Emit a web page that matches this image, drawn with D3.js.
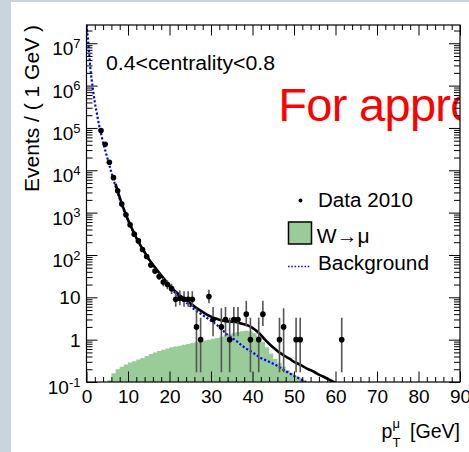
<!DOCTYPE html>
<html>
<head>
<meta charset="utf-8">
<script src="https://cdn.jsdelivr.net/npm/d3@7"></script>
<style>
  html, body { margin: 0; padding: 0; background: #c9d4db; }
  svg { display: block; }
</style>
</head>
<body>
<svg id="chart" width="469" height="452"></svg>
<script>
// ---- data -------------------------------------------------------------
// Data 2010: bin centres (GeV), counts and asymmetric error bars
const dataPt  = [3.5, 4.5, 5.5, 6.5, 7.5, 8.5, 9.5, 10.5, 11.5, 12.5, 13.5, 14.5, 15.5, 16.5, 17.5, 18.5, 19.5, 20.5,
                 21.5, 22.5, 23.5, 24.5, 25.5, 26.5, 27.5, 29.5, 30.5, 32.5, 33.5, 34.5, 35.5, 36.5, 38.5, 39.5,
                 41.5, 42.5, 46.5, 47.5, 50.5, 51.5, 61.5];
const dataVal = [87000, 41000, 15500, 6700, 3300, 1600, 890, 515, 310, 215, 135, 92, 58, 42, 31, 23, 20, 16,
                 9, 9.5, 9, 9, 9, 2, 1, 10.4, 3, 2, 3, 1, 3, 3, 4, 1,
                 1, 4, 1, 2, 1, 1, 1];
const dataErrLo = [295, 200, 125, 82, 57, 40, 30, 23, 18, 15, 12, 10, 8, 6.5, 5.5, 4.8, 4.5, 4,
                   3, 3, 3, 3, 3, 1.83, 0.83, 3.2, 1.8, 1.83, 1.8, 0.83, 1.8, 1.8, 1.9, 0.83,
                   0.83, 1.9, 0.83, 1.83, 0.83, 0.83, 0.83];
const dataErrHi = [295, 200, 125, 82, 57, 40, 30, 23, 18, 15, 12, 10, 8, 7, 6, 5.5, 5.2, 4.8,
                   5, 5, 5, 5, 5, 3.5, 2.3, 4.7, 2.9, 3.5, 2.9, 2.3, 2.9, 2.9, 4.3, 2.3,
                   2.3, 4.3, 2.3, 3.5, 2.3, 2.3, 2.3];

// Background model
const bgPt  = [0, 0.5, 1, 1.5, 2, 2.5, 3, 3.5, 4, 4.5, 5, 6, 7, 8, 9, 10, 11, 12, 13, 14, 15, 16, 17, 18, 19, 20,
               21, 22, 24, 26, 28, 30, 32, 34, 36, 38, 40, 42, 44, 46, 48, 50, 52, 53];
const bgVal = [2.7e7, 8.5e6, 2.2e6, 8.9e5, 4.0e5, 2.2e5, 1.2e5, 7.4e4, 4.5e4, 3.0e4, 2.0e4, 8.9e3, 4.2e3, 2.1e3,
               1150, 660, 400, 250, 166, 115, 79, 58, 43, 32, 24, 18,
               14, 11, 7.6, 5.2, 3.8, 2.8, 2.0, 1.3, 0.95, 0.66, 0.5, 0.37, 0.3, 0.24, 0.18, 0.14, 0.11, 0.095];

// W -> mu template (1 GeV bins, left edges)
const wPt  = [5, 6, 7, 8, 9, 10, 11, 12, 13, 14, 15, 16, 17, 18, 19, 20, 21, 22, 23, 24, 25, 26, 27, 28, 29,
              30, 31, 32, 33, 34, 35, 36, 37, 38, 39, 40, 41, 42, 43, 44, 45, 46, 47, 48, 49, 50, 51, 52, 53];
const wVal = [0.11, 0.16, 0.2, 0.23, 0.26, 0.29, 0.31, 0.34, 0.37, 0.41, 0.46, 0.5, 0.54, 0.58, 0.62, 0.66,
              0.69, 0.72, 0.76, 0.79, 0.83, 0.87, 0.91, 0.95, 1.0, 1.05, 1.1, 1.17, 1.26, 1.35, 1.45, 1.51,
              1.58, 1.62, 1.58, 1.41, 1.2, 0.89, 0.66, 0.47, 0.35, 0.28, 0.23, 0.19, 0.166, 0.141, 0.126, 0.112, 0.1];

// Total fit (background + W)
const totPt  = [7, 8, 9, 10, 11, 12, 13, 14, 15, 16, 17, 18, 19, 20, 21, 22, 23, 24, 25, 26, 27, 28, 29, 30,
                31, 32, 33, 34, 35, 36, 37, 38, 39, 40, 41, 42, 43, 44, 45, 46, 47, 48, 49, 50, 51, 52, 53,
                54, 55, 56, 57, 58, 59, 60];
const totVal = [4800, 2300, 1200, 680, 410, 255, 168, 117, 81, 59, 44, 33, 25, 19, 15, 12.3, 10.2, 8.6, 7.2,
                6.1, 5.2, 4.5, 3.9, 3.5, 3.2, 2.95, 2.8, 2.7, 2.65, 2.6, 2.45, 2.3, 2.15, 1.9, 1.6, 1.3, 1.0,
                0.8, 0.65, 0.54, 0.46, 0.4, 0.35, 0.3, 0.27, 0.24, 0.21, 0.19, 0.17, 0.15, 0.135, 0.12, 0.107, 0.095];

// Axis ticks
const xMajor = [0, 10, 20, 30, 40, 50, 60, 70, 80, 90];
const xMinor = [2, 4, 6, 8, 12, 14, 16, 18, 22, 24, 26, 28, 32, 34, 36, 38, 42, 44, 46, 48,
                52, 54, 56, 58, 62, 64, 66, 68, 72, 74, 76, 78, 82, 84, 86, 88];
const yMajor = [0.1, 1, 10, 1e2, 1e3, 1e4, 1e5, 1e6, 1e7];
const yMinorMult = [2, 3, 4, 5, 6, 7, 8, 9];

const legendLabels = ["Data 2010", "W\u2192\u03bc", "Background"];
const centralityLabel = "0.4<centrality<0.8";
const stampLabel = "For approval";

// ---- drawing ----------------------------------------------------------
const FONT = "'Liberation Sans', Arial, Helvetica, sans-serif";
const svg = d3.select("#chart");
const W = 469, H = 452;

svg.append("rect").attr("x", 11).attr("y", 2).attr("width", W - 11).attr("height", H - 2).attr("fill", "#ffffff");

const x = d3.scaleLinear().domain([0, 90]).range([86.5, 460]);
const y = d3.scaleLog().domain([0.1, 2.7e7]).range([382, 25]);
const [x0, x1] = x.range();
const [yb, yt] = y.range();

svg.append("clipPath").attr("id", "plotClip")
  .append("rect").attr("x", x0).attr("y", yt).attr("width", x1 - x0).attr("height", yb - yt);

const plot = svg.append("g").attr("clip-path", "url(#plotClip)");

// stamp text (runs past the frame and is cut by it)
plot.append("text")
  .attr("x", 278.3).attr("y", 120.5)
  .attr("font-family", FONT).attr("font-size", 47).attr("letter-spacing", -0.7).attr("fill", "#ff0000")
  .text(stampLabel);

// W -> mu filled histogram
plot.append("path")
  .datum(wPt.map((p, i) => [p, wVal[i]]))
  .attr("fill", "#99cc99")
  .attr("d", d3.area().curve(d3.curveStepAfter)
    .x(d => x(d[0])).y0(yb + 5).y1(d => y(d[1])));

// background (blue dotted)
plot.append("path")
  .datum(bgPt.map((p, i) => [p, bgVal[i]]))
  .attr("fill", "none").attr("stroke", "#0000ff").attr("stroke-width", 2.2)
  .attr("stroke-dasharray", "2.2,2")
  .attr("d", d3.line().curve(d3.curveMonotoneX).x(d => x(d[0])).y(d => y(d[1])));

// total fit
plot.append("path")
  .datum(totPt.map((p, i) => [p, totVal[i]]))
  .attr("fill", "none").attr("stroke", "#000").attr("stroke-width", 2.6)
  .attr("d", d3.line().curve(d3.curveMonotoneX).x(d => x(d[0])).y(d => y(d[1])));

// data error bars + markers
const pts = dataPt.map((p, i) => ({ p, v: dataVal[i], lo: dataVal[i] - dataErrLo[i], hi: dataVal[i] + dataErrHi[i] }));
plot.append("g").selectAll("line").data(pts).join("line")
  .attr("x1", d => x(d.p)).attr("x2", d => x(d.p))
  .attr("y1", d => y(Math.max(d.lo, 0.01))).attr("y2", d => y(d.hi))
  .attr("stroke", "#555").attr("stroke-width", 1.6);
plot.append("g").selectAll("circle").data(pts).join("circle")
  .attr("cx", d => x(d.p)).attr("cy", d => y(d.v)).attr("r", 2.8).attr("fill", "#000");

// ---- axes -------------------------------------------------------------
const yMinor = [];
yMajor.forEach(m => yMinorMult.forEach(k => { const v = m * k; if (v < y.domain()[1]) yMinor.push(v); }));

function clean(g) { g.select(".domain").remove(); g.attr("font-family", FONT).attr("font-size", 19); }

// left
const gLeft = svg.append("g").attr("transform", `translate(${x0},0)`)
  .call(d3.axisLeft(y).tickValues(yMajor).tickSize(-11).tickPadding(6)
    .tickFormat(v => { const k = Math.round(Math.log10(v)); return k === 0 ? "1" : "10"; }))
  .call(clean);
gLeft.selectAll(".tick text").each(function (v) {
  const k = Math.round(Math.log10(v));
  const t = d3.select(this);
  if (k === 0 || k === 1) { t.attr("dy", "0.35em"); }
  else {
    t.attr("dy", 11.5);
    t.append("tspan").attr("font-size", 13).attr("dy", -7.4).text(String(k));
  }
});
svg.append("g").attr("transform", `translate(${x0},0)`)
  .call(d3.axisLeft(y).tickValues(yMinor).tickSize(-6).tickFormat(() => ""))
  .call(clean);

// right
svg.append("g").attr("transform", `translate(${x1},0)`)
  .call(d3.axisRight(y).tickValues(yMajor).tickSize(-11).tickFormat(() => ""))
  .call(clean);
svg.append("g").attr("transform", `translate(${x1},0)`)
  .call(d3.axisRight(y).tickValues(yMinor).tickSize(-6).tickFormat(() => ""))
  .call(clean);

// bottom
svg.append("g").attr("transform", `translate(0,${yb})`)
  .call(d3.axisBottom(x).tickValues(xMajor).tickSize(-10.5).tickPadding(8).tickFormat(d3.format("d")))
  .call(clean);
svg.append("g").attr("transform", `translate(0,${yb})`)
  .call(d3.axisBottom(x).tickValues(xMinor).tickSize(-5).tickFormat(() => ""))
  .call(clean);

// top
svg.append("g").attr("transform", `translate(0,${yt})`)
  .call(d3.axisTop(x).tickValues(xMajor).tickSize(-10.5).tickFormat(() => ""))
  .call(clean);
svg.append("g").attr("transform", `translate(0,${yt})`)
  .call(d3.axisTop(x).tickValues(xMinor).tickSize(-5).tickFormat(() => ""))
  .call(clean);

// frame
svg.append("rect").attr("x", x0).attr("y", yt).attr("width", x1 - x0).attr("height", yb - yt)
  .attr("fill", "none").attr("stroke", "#000").attr("stroke-width", 1.2);

// ---- titles -----------------------------------------------------------
svg.append("text")
  .attr("transform", `translate(39,${yt}) rotate(-90)`)
  .attr("text-anchor", "end").attr("font-family", FONT).attr("font-size", 20)
  .attr("textLength", 167).attr("lengthAdjust", "spacingAndGlyphs")
  .text("Events / ( 1 GeV )");

const xt = svg.append("g").attr("font-family", FONT).attr("fill", "#000");
xt.append("text").attr("x", 410).attr("y", 437.5).attr("font-size", 19.5)
  .attr("textLength", 50).attr("lengthAdjust", "spacingAndGlyphs").text("[GeV]");
xt.append("text").attr("x", 381.5).attr("y", 437.5).attr("font-size", 19.5).text("p");
xt.append("text").attr("x", 392.5).attr("y", 428).attr("font-size", 13).text("\u03bc");
xt.append("text").attr("x", 392.5).attr("y", 447).attr("font-size", 13).text("T");

svg.append("text").attr("x", 106).attr("y", 70)
  .attr("font-family", FONT).attr("font-size", 20)
  .attr("textLength", 169).attr("lengthAdjust", "spacingAndGlyphs")
  .text(centralityLabel);

// ---- legend -----------------------------------------------------------
const lg = svg.append("g").attr("font-family", FONT).attr("font-size", 19.5);
lg.append("circle").attr("cx", 300.5).attr("cy", 200.5).attr("r", 1.9).attr("fill", "#000");
lg.append("rect").attr("x", 288.5).attr("y", 222).attr("width", 23).attr("height", 22)
  .attr("fill", "#99cc99").attr("stroke", "#000").attr("stroke-width", 1.5);
lg.append("line").attr("x1", 288).attr("x2", 311).attr("y1", 266.5).attr("y2", 266.5)
  .attr("stroke", "#0000ff").attr("stroke-width", 1.5).attr("stroke-dasharray", "1.5,1.8");
const legendX = [318, 316.7, 318];
const legendY = [206.7, 242.7, 270];
const legendW = [95, 53, 111];
lg.selectAll("text.lbl").data(legendLabels).join("text").attr("class", "lbl")
  .attr("x", (d, i) => legendX[i]).attr("y", (d, i) => legendY[i])
  .attr("textLength", (d, i) => legendW[i]).attr("lengthAdjust", "spacingAndGlyphs")
  .text(d => d);
</script>
</body>
</html>
